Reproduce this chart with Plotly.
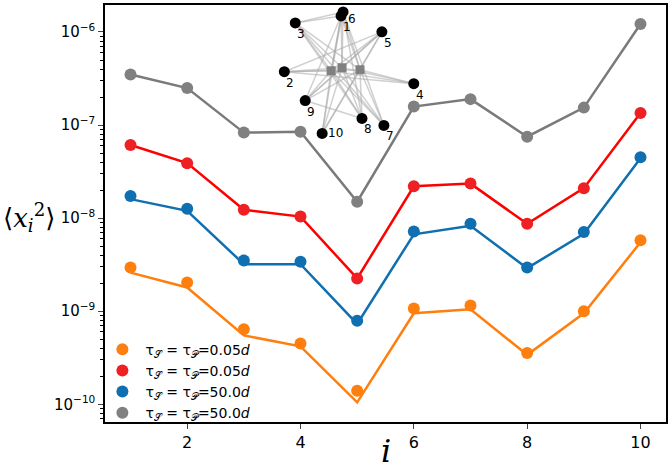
import plotly.graph_objects as go

# node index i
nodes = [1, 2, 3, 4, 5, 6, 7, 8, 9, 10]

# simulation (dots)
orange_pts = [2.95e-9, 2.04e-9, 6.4e-10, 4.5e-10, 1.4e-10, 1.07e-9, 1.15e-9, 3.55e-10, 1.0e-9, 5.8e-9]
red_pts = [6.1e-8, 3.9e-8, 1.23e-8, 1.04e-8, 2.25e-9, 2.2e-8, 2.35e-8, 8.7e-9, 2.1e-8, 1.35e-7]
blue_pts = [1.73e-8, 1.26e-8, 3.5e-9, 3.4e-9, 7.9e-10, 7.2e-9, 8.7e-9, 2.95e-9, 7.1e-9, 4.5e-8]
gray_pts = [3.5e-7, 2.5e-7, 8.3e-8, 8.5e-8, 1.5e-8, 1.58e-7, 1.9e-7, 7.5e-8, 1.54e-7, 1.22e-6]

# theory (lines)
orange_line = [2.6e-9, 1.8e-9, 5.5e-10, 4.2e-10, 1.05e-10, 9.5e-10, 1.05e-9, 3.4e-10, 9.5e-10, 5.5e-9]
red_line = red_pts
blue_line = [1.6e-8, 1.2e-8, 3.2e-9, 3.2e-9, 7.3e-10, 6.7e-9, 8.3e-9, 2.9e-9, 6.8e-9, 4.4e-8]
gray_line = gray_pts

labels = ["τ<sub>𝒮</sub> = τ<sub>𝒫</sub>=0.05<i>d</i>",
          "τ<sub>𝒮</sub> = τ<sub>𝒫</sub>=0.05<i>d</i>",
          "τ<sub>𝒮</sub> = τ<sub>𝒫</sub>=50.0<i>d</i>",
          "τ<sub>𝒮</sub> = τ<sub>𝒫</sub>=50.0<i>d</i>"]

# inset network layout
net_x = [34.2, 28.5, 29.6, 41.5, 38.3, 34.4, 38.5, 36.3, 30.6, 32.3]
net_y = [1.4, 7.0, 2.1, 8.2, 3.0, 1.0, 12.4, 11.7, 9.9, 13.2]
hub_x = [33.2, 34.3, 36.1]
hub_y = [6.9, 6.6, 6.8]
extra_edges = [(3, 1), (3, 6), (9, 8), (1, 10), (6, 7), (5, 9), (5, 2), (3, 8),
               (3, 7), (2, 4), (1, 9), (6, 8), (5, 10)]

colors_pts = ["#ff7f0e", "#ee2024", "#0f6fb0", "#808080"]
colors_line = ["#ff7f0e", "#ff0000", "#0f6fb0", "#7a7a7a"]

fig = go.Figure()

lines = [orange_line, red_line, blue_line, gray_line]
pts = [orange_pts, red_pts, blue_pts, gray_pts]
for k in range(4):
    fig.add_trace(go.Scatter(x=nodes, y=lines[k], mode="lines",
                             line=dict(color=colors_line[k], width=2.5),
                             showlegend=False))
for k in range(4):
    fig.add_trace(go.Scatter(x=nodes, y=pts[k], mode="markers",
                             marker=dict(color=colors_pts[k], size=12),
                             name=labels[k]))

# inset edges
ex, ey = [], []
for i in range(10):
    for h in range(3):
        ex += [net_x[i], hub_x[h], None]
        ey += [net_y[i], hub_y[h], None]
for a, b in extra_edges:
    ex += [net_x[a - 1], net_x[b - 1], None]
    ey += [net_y[a - 1], net_y[b - 1], None]
fig.add_trace(go.Scatter(x=ex, y=ey, mode="lines", xaxis="x2", yaxis="y2",
                         line=dict(color="rgba(170,170,170,0.55)", width=1.5),
                         showlegend=False, hoverinfo="skip"))
fig.add_trace(go.Scatter(x=hub_x, y=hub_y, mode="markers", xaxis="x2", yaxis="y2",
                         marker=dict(color="#808080", size=9, symbol="square"),
                         showlegend=False))
fig.add_trace(go.Scatter(x=net_x, y=net_y, mode="markers", xaxis="x2", yaxis="y2",
                         marker=dict(color="black", size=11),
                         showlegend=False))
for i in range(10):
    dx, dy = 0.6, 1.1
    if nodes[i] == 6:
        dx, dy = 0.9, 0.7
    if nodes[i] == 10:
        dx, dy = 1.3, 0.0
    fig.add_annotation(x=net_x[i] + dx, y=net_y[i] + dy, xref="x2", yref="y2",
                       text=str(nodes[i]), showarrow=False,
                       font=dict(size=12, color="black"))

minor_vals = []
for e in range(-11, -5):
    for m in range(2, 10):
        minor_vals.append(m * 10.0 ** e)

axis_font = dict(family="DejaVu Sans", size=15, color="black")
fig.update_layout(
    width=671, height=469,
    margin=dict(l=105, r=3, t=3, b=47),
    plot_bgcolor="rgba(0,0,0,0)", paper_bgcolor="white",
    font=axis_font,
    xaxis=dict(range=[0.55, 10.45], tickvals=[2, 4, 6, 8, 10], ticks="outside",
               ticklen=5, tickwidth=1.2, showline=True, linecolor="black",
               linewidth=1.5, mirror=True, showgrid=False, zeroline=False,
               tickfont=dict(family="DejaVu Sans", size=16, color="black")),
    yaxis=dict(type="log", range=[-10.19, -5.71],
               tickvals=[1e-10, 1e-9, 1e-8, 1e-7, 1e-6],
               ticktext=["10<sup>−10</sup>", "10<sup>−9</sup>", "10<sup>−8</sup>",
                         "10<sup>−7</sup>", "10<sup>−6</sup>"],
               ticks="outside", ticklen=5, tickwidth=1.2, showline=True,
               linecolor="black", linewidth=1.5, mirror=True, showgrid=False,
               zeroline=False, tickfont=axis_font,
               minor=dict(tickvals=minor_vals, ticks="outside", ticklen=3,
                          tickwidth=1, tickcolor="black", showgrid=False)),
    xaxis2=dict(domain=[0.293, 0.577], range=[27, 43], visible=False),
    yaxis2=dict(domain=[0.673, 1.0], range=[14, 0.3], visible=False),
    legend=dict(x=-0.01, y=0.212, xanchor="left", yanchor="top",
                bgcolor="rgba(0,0,0,0)", font=dict(size=14, color="black"),
                itemsizing="constant", itemwidth=36, tracegroupgap=0),
    showlegend=True,
)

fig.add_annotation(x=-0.185, y=0.49, xref="paper", yref="paper",
                   text="⟨<i>x</i><sub><i>i</i></sub><sup>2</sup>⟩", showarrow=False,
                   font=dict(family="DejaVu Serif", size=26, color="black"))
fig.add_annotation(x=0.5, y=-0.02, xref="paper", yref="paper",
                   text="<i>i</i>", showarrow=False, yanchor="top",
                   font=dict(family="DejaVu Serif", size=32, color="black"))

fig.write_html("out.html", config={"displayModeBar": False},
               post_script="document.body.style.margin='0px';"
                           "document.body.style.overflow='hidden';")
